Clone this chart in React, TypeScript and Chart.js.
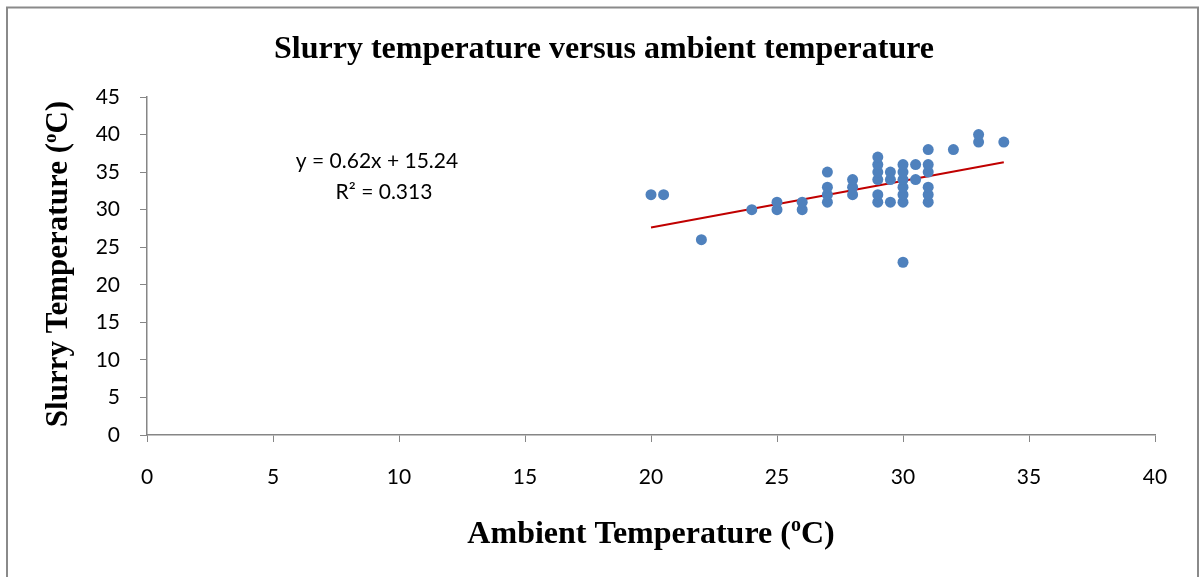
import React, { useEffect, useRef } from "react";
import { Chart, registerables } from "chart.js";

Chart.register(...registerables);

const chartTitle = "Slurry temperature versus ambient temperature";
const xAxisTitle = "Ambient Temperature (";
const yAxisTitle = "Slurry Temperature (";
const axisUnitSup = "o";
const axisUnitEnd = "C)";
const equationLine1 = "y = 0.62x + 15.24";
const equationLine2 = "R² = 0.313";

const ambientTemp = [
  20, 20.5, 22, 24, 25, 25, 26, 26,
  27, 27, 27, 27, 28, 28, 28,
  29, 29, 29, 29, 29, 29, 29.5, 29.5, 29.5,
  30, 30, 30, 30, 30, 30, 30, 30.5, 30.5,
  31, 31, 31, 31, 31, 31, 32, 33, 33, 34,
];
const slurryTemp = [
  32, 32, 26, 30, 30, 31, 30, 31,
  31, 32, 33, 35, 32, 33, 34,
  31, 32, 34, 35, 36, 37, 31, 34, 35,
  23, 31, 32, 33, 34, 35, 36, 34, 36,
  31, 32, 33, 35, 36, 38, 38, 39, 40, 39,
];

const trendSlope = 0.62;
const trendIntercept = 15.24;
const trendXStart = 20;
const trendXEnd = 34;

const xTicks = { min: 0, max: 40, step: 5 };
const yTicks = { min: 0, max: 45, step: 5 };

const overlayPlugin = {
  id: "overlay",
  afterDraw(chart: any) {
    const ctx = chart.ctx as CanvasRenderingContext2D;
    ctx.save();
    // outer border
    ctx.strokeStyle = "#8a8a8a";
    ctx.lineWidth = 2;
    ctx.strokeRect(7, 7.5, 1191, 600);

    // title
    ctx.fillStyle = "#000";
    ctx.textAlign = "center";
    ctx.textBaseline = "alphabetic";
    ctx.font = "bold 32px 'Liberation Serif'";
    ctx.fillText(chartTitle, 604, 58);

    const drawAxisTitle = (main: string, cx: number, baseY: number, size: number) => {
      const mainFont = `bold ${size}px 'Liberation Serif'`;
      const supFont = `bold ${Math.round(size * 0.62)}px 'Liberation Serif'`;
      ctx.font = mainFont;
      const w1 = ctx.measureText(main).width;
      const w3 = ctx.measureText(axisUnitEnd).width;
      ctx.font = supFont;
      const w2 = ctx.measureText(axisUnitSup).width;
      const total = w1 + w2 + w3;
      let x = cx - total / 2;
      ctx.textAlign = "left";
      ctx.font = mainFont;
      ctx.fillText(main, x, baseY);
      x += w1;
      ctx.font = supFont;
      ctx.fillText(axisUnitSup, x, baseY - size * 0.37);
      x += w2;
      ctx.font = mainFont;
      ctx.fillText(axisUnitEnd, x, baseY);
    };

    drawAxisTitle(xAxisTitle, 651, 543, 32);

    ctx.save();
    ctx.translate(67, 264);
    ctx.rotate(-Math.PI / 2);
    drawAxisTitle(yAxisTitle, 0, 0, 31);
    ctx.restore();

    // equation
    ctx.textAlign = "center";
    ctx.textBaseline = "middle";
    ctx.font = "21px Lato";
    ctx.fillText(equationLine1, 377, 161);
    ctx.fillText(equationLine2, 384, 192);
    ctx.restore();
  },
};

export default function App() {
  const canvasRef = useRef<HTMLCanvasElement | null>(null);

  useEffect(() => {
    document.body.style.margin = "0";
    const canvas = canvasRef.current;
    if (!canvas) return;
    const points = ambientTemp.map((x, i) => ({ x, y: slurryTemp[i] }));
    const trend = [trendXStart, trendXEnd].map((x) => ({
      x,
      y: trendSlope * x + trendIntercept,
    }));
    const axisColor = "#868686";
    const chart = new Chart(canvas, {
      type: "scatter",
      data: {
        datasets: [
          {
            label: "Slurry temperature",
            data: points,
            backgroundColor: "#4F81BD",
            borderColor: "#4F81BD",
            pointRadius: 5.5,
            pointBorderWidth: 0,
          },
          {
            type: "line",
            label: "Trend",
            data: trend,
            borderColor: "#C00000",
            borderWidth: 2,
            pointRadius: 0,
            fill: false,
          } as any,
        ],
      },
      options: {
        responsive: false,
        animation: false,
        layout: { padding: { top: 97, right: 45, left: 0, bottom: 0 } },
        plugins: {
          legend: { display: false },
          title: { display: false },
          tooltip: { enabled: false },
        },
        scales: {
          x: {
            type: "linear",
            min: xTicks.min,
            max: xTicks.max,
            ticks: {
              stepSize: xTicks.step,
              color: "#000",
              font: { family: "Lato", size: 21 },
              padding: 23,
              maxRotation: 0,
            },
            grid: {
              display: true,
              drawOnChartArea: false,
              drawTicks: true,
              tickLength: 7,
              color: axisColor,
            },
            border: { display: true, color: axisColor, width: 1.5 },
            afterFit: (scale: any) => {
              scale.height = 142;
            },
          },
          y: {
            type: "linear",
            min: yTicks.min,
            max: yTicks.max,
            ticks: {
              stepSize: yTicks.step,
              color: "#000",
              font: { family: "Lato", size: 21 },
              padding: 20,
            },
            grid: {
              display: true,
              drawOnChartArea: false,
              drawTicks: true,
              tickLength: 7,
              color: axisColor,
            },
            border: { display: true, color: axisColor, width: 1.5 },
            afterFit: (scale: any) => {
              scale.width = 147;
            },
          },
        },
      },
      plugins: [overlayPlugin],
    });
    document.fonts?.ready.then(() => chart.update());
    return () => chart.destroy();
  }, []);

  return (
    <div style={{ position: "relative", width: 1200, height: 577, background: "#fff" }}>
      <canvas ref={canvasRef} width={1200} height={577} />
    </div>
  );
}
